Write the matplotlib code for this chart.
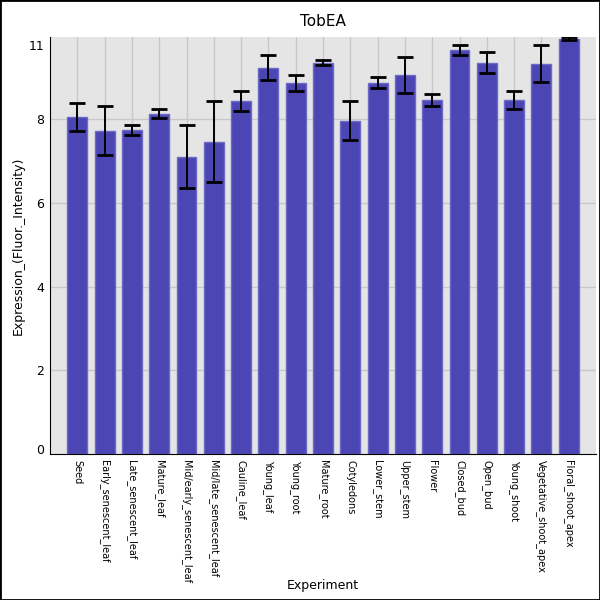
import matplotlib
matplotlib.use("Agg")
import matplotlib.pyplot as plt
import numpy as np

categories = ["Seed", "Early_senescent_leaf", "Late_senescent_leaf", "Mature_leaf",
              "Mid/early_senescent_leaf", "Mid/late_senescent_leaf", "Cauline_leaf",
              "Young_leaf", "Young_root", "Mature_root", "Cotyledons", "Lower_stem",
              "Upper_stem", "Flower", "Closed_bud", "Open_bud", "Young_shoot",
              "Vegetative_shoot_apex", "Floral_shoot_apex"]
values = [8.06, 7.73, 7.74, 8.14, 7.11, 7.47, 8.45, 9.24, 8.88, 9.36,
          7.97, 8.88, 9.06, 8.47, 9.67, 9.36, 8.47, 9.33, 9.93]
errors = [0.33, 0.59, 0.12, 0.10, 0.75, 0.97, 0.24, 0.31, 0.19, 0.06,
          0.47, 0.13, 0.42, 0.14, 0.12, 0.24, 0.22, 0.44, 0.03]
ytick_pos = [0.13, 2, 4, 6, 8, 9.78]
ytick_labels = ["0", "2", "4", "6", "8", "11"]

fig = plt.figure(figsize=(6, 6), dpi=100)
ax = fig.add_axes([50/600, 1-454/600, 546/600, 417/600])
ax.set_facecolor("#e5e5e5")
x = np.arange(len(categories))
ax.bar(x, values, width=0.73, color="#4b46b3", edgecolor="#6d69c6", linewidth=1, zorder=2,
       yerr=errors, error_kw=dict(ecolor="black", elinewidth=1.4, capsize=6, capthick=2, zorder=3))
ax.set_xlim(-1, len(categories))
ax.set_ylim(0, 9.97)
ax.set_xticks(x)
ax.set_xticklabels(categories, rotation=270, fontsize=7)
ax.set_yticks(ytick_pos)
ax.set_yticklabels(ytick_labels, fontsize=9)
ax.tick_params(length=0, pad=4)
ax.grid(True, color="#c8c8c8", linewidth=1, zorder=0)
ax.set_axisbelow(True)
gl = ax.get_ygridlines()
gl[0].set_visible(False)
gl[-1].set_visible(False)
for s in ["top", "right"]:
    ax.spines[s].set_visible(False)
ax.spines["left"].set_color("black")
ax.spines["bottom"].set_color("black")
ax.set_title("TobEA", fontsize=11, pad=8)
ax.set_ylabel("Expression_(Fluor._Intensity)", fontsize=9)
ax.set_xlabel("Experiment", fontsize=9)
ax.xaxis.set_label_coords(0.5, -0.30)
ax.yaxis.set_label_coords(-0.047, 0.5)
fig.patches.append(plt.Rectangle((0, 0), 1, 1, transform=fig.transFigure, fill=False,
                                 edgecolor="black", linewidth=2))
fig.savefig("out.png", dpi=100)
